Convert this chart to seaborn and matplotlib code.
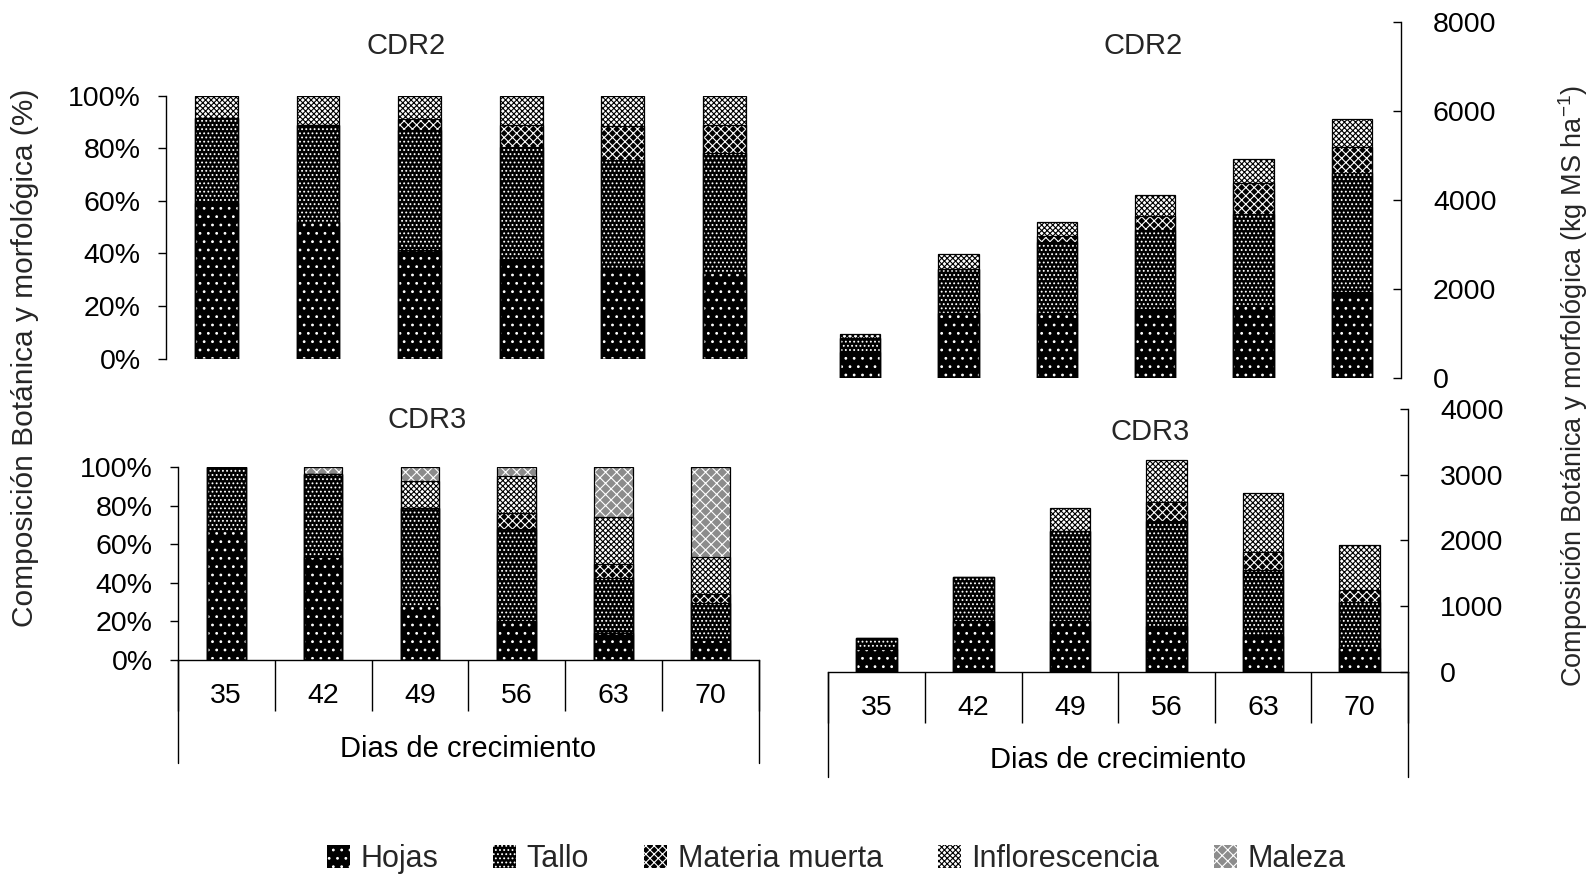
import numpy as np
import matplotlib
matplotlib.use("Agg")
import matplotlib.pyplot as plt
import seaborn as sns
from matplotlib.patches import Patch, Rectangle
from matplotlib.lines import Line2D
from matplotlib.transforms import blended_transform_factory
import matplotlib.ticker as mticker

# Días de crecimiento (categorías) y componentes
dias = ["35", "42", "49", "56", "63", "70"]
componentes = ["Hojas", "Tallo", "Materia muerta", "Inflorescencia", "Maleza"]

# CDR2 - composición porcentual (%)
cdr2_pct_hojas = [59.1, 51.9, 41.1, 38.0, 33.5, 32.7]
cdr2_pct_tallo = [32.4, 37.0, 45.9, 42.4, 41.8, 45.5]
cdr2_pct_mm = [0.0, 0.0, 4.1, 8.5, 13.1, 10.7]
cdr2_pct_infl = [8.5, 11.1, 8.9, 11.1, 11.6, 11.1]

# CDR2 - rendimiento (kg MS/ha)
cdr2_kg_hojas = [575, 1466, 1466, 1560, 1636, 1937]
cdr2_kg_tallo = [330, 985, 1602, 1763, 2063, 2668]
cdr2_kg_mm = [0, 0, 135, 324, 681, 586]
cdr2_kg_infl = [80, 331, 316, 473, 552, 644]

# CDR3 - composición porcentual (%)
cdr3_pct_hojas = [67.1, 53.3, 28.2, 20.4, 13.8, 10.4]
cdr3_pct_tallo = [32.9, 43.2, 50.9, 47.6, 28.6, 19.0]
cdr3_pct_mm = [0.0, 0.0, 0.0, 8.1, 7.4, 4.9]
cdr3_pct_infl = [0.0, 0.0, 14.0, 19.4, 24.2, 19.3]
cdr3_pct_maleza = [0.0, 3.5, 6.9, 4.5, 26.0, 46.4]

# CDR3 - rendimiento (kg MS/ha)
cdr3_kg_hojas = [347, 770, 770, 699, 536, 357]
cdr3_kg_tallo = [168, 679, 1378, 1597, 1020, 704]
cdr3_kg_mm = [0, 0, 0, 296, 271, 179]
cdr3_kg_infl = [0, 0, 347, 638, 903, 689]

sns.set_theme(style="white")
plt.rcParams["font.family"] = ["Liberation Sans", "DejaVu Sans"]
plt.rcParams["mathtext.default"] = "regular"
plt.rcParams["hatch.linewidth"] = 0.8

FS_TICK = 20.5
FS = 21
FS_LEG = 22
W, H = 1593, 875
fig = plt.figure(figsize=(W / 100, H / 100), dpi=100)


def axes_px(left, top, right, bottom):
    return fig.add_axes([left / W, 1 - bottom / H, (right - left) / W, (bottom - top) / H])


estilos = {
    "Hojas": dict(face="black", hatch="..", hc="white"),
    "Tallo": dict(face="black", hatch="....", hc="white"),
    "Materia muerta": dict(face="black", hatch="xxxx", hc="white"),
    "Inflorescencia": dict(face="white", hatch="xxxxxx", hc="black"),
    "Maleza": dict(face="#8c8c8c", hatch="xxx", hc="white"),
}


def barras_apiladas(ax, capas, width):
    valores = np.array([v for _, v in capas], dtype=float)
    acumulado = np.cumsum(valores, axis=0)
    # se dibuja del total hacia abajo; cada capa tapa la parte inferior de la anterior
    for k in range(len(capas) - 1, -1, -1):
        st = estilos[capas[k][0]]
        n0 = len(ax.patches)
        sns.barplot(x=dias, y=acumulado[k], order=dias, ax=ax, color=st["face"],
                    saturation=1, width=width, errorbar=None, hatch=st["hatch"],
                    edgecolor=st["hc"], linewidth=0)
        for p in list(ax.patches[n0:]):
            ax.add_patch(Rectangle(p.get_xy(), p.get_width(), p.get_height(), fill=False,
                                   edgecolor="black", linewidth=0.9, zorder=2))
    ax.set_xlim(-0.5, len(dias) - 0.5)
    ax.set_xlabel("")
    ax.set_ylabel("")


def eje_porcentaje(ax):
    ax.set_ylim(0, 100)
    ax.set_yticks(np.arange(0, 101, 20))
    ax.yaxis.set_major_formatter(mticker.FuncFormatter(lambda v, _: f"{v:.0f}%"))
    for s in ["top", "right"]:
        ax.spines[s].set_visible(False)
    ax.spines["left"].set_color("black")
    ax.spines["left"].set_linewidth(1.0)
    ax.tick_params(axis="y", direction="out", length=6, width=1, pad=12,
                   labelsize=FS_TICK, left=True, colors="black")


def eje_kg(ax, ymax, paso):
    ax.set_ylim(0, ymax)
    ax.set_yticks(np.arange(0, ymax + 1, paso))
    ax.yaxis.tick_right()
    for s in ["top", "left"]:
        ax.spines[s].set_visible(False)
    ax.spines["right"].set_color("black")
    ax.spines["right"].set_linewidth(1.0)
    ax.tick_params(axis="y", direction="in", length=6, width=1, pad=23,
                   labelsize=FS_TICK, right=True, left=False, colors="black")


def sin_eje_x(ax):
    ax.spines["bottom"].set_visible(False)
    ax.tick_params(axis="x", bottom=False, labelbottom=False)


def caja_categorias(ax, alto_ax_px, sep_px, ext_px, lab_px, tit_px):
    ax.spines["bottom"].set_visible(True)
    ax.spines["bottom"].set_color("black")
    ax.spines["bottom"].set_linewidth(1.0)
    n = len(dias)
    ax.set_xticks(np.arange(-0.5, n, 1.0))
    ax.tick_params(axis="x", which="major", direction="out", length=sep_px * 0.72,
                   width=1, bottom=True, labelbottom=False, colors="black")
    tr = blended_transform_factory(ax.transData, ax.transAxes)
    for xe in (-0.5, n - 0.5):
        ax.add_line(Line2D([xe, xe], [0, -ext_px / alto_ax_px], transform=tr,
                           color="black", linewidth=1.0, clip_on=False))
    for i, d in enumerate(dias):
        ax.text(i, -lab_px / alto_ax_px, d, transform=tr, ha="center", va="center",
                fontsize=FS_TICK, color="black")
    ax.text((n - 1) / 2, -tit_px / alto_ax_px, "Dias de crecimiento", transform=tr,
            ha="center", va="center", fontsize=FS, color="black")


# Superior izquierdo: CDR2 (%)
ax1 = axes_px(165.6, 95.5, 775.2, 358.6)
barras_apiladas(ax1, [("Hojas", cdr2_pct_hojas), ("Tallo", cdr2_pct_tallo),
                      ("Materia muerta", cdr2_pct_mm), ("Inflorescencia", cdr2_pct_infl)], 0.42)
eje_porcentaje(ax1)
sin_eje_x(ax1)

# Superior derecho: CDR2 (kg MS/ha)
ax2 = axes_px(811, 22.4, 1401, 378)
barras_apiladas(ax2, [("Hojas", cdr2_kg_hojas), ("Tallo", cdr2_kg_tallo),
                      ("Materia muerta", cdr2_kg_mm), ("Inflorescencia", cdr2_kg_infl)], 0.41)
eje_kg(ax2, 8000, 2000)
sin_eje_x(ax2)

# Inferior izquierdo: CDR3 (%)
ax3 = axes_px(177.8, 467.3, 759, 660)
barras_apiladas(ax3, [("Hojas", cdr3_pct_hojas), ("Tallo", cdr3_pct_tallo),
                      ("Materia muerta", cdr3_pct_mm), ("Inflorescencia", cdr3_pct_infl),
                      ("Maleza", cdr3_pct_maleza)], 0.40)
eje_porcentaje(ax3)
caja_categorias(ax3, 660 - 467.3, 51, 103, 36, 89)

# Inferior derecho: CDR3 (kg MS/ha)
ax4 = axes_px(828.3, 409.3, 1408, 671.6)
barras_apiladas(ax4, [("Hojas", cdr3_kg_hojas), ("Tallo", cdr3_kg_tallo),
                      ("Materia muerta", cdr3_kg_mm), ("Inflorescencia", cdr3_kg_infl)], 0.42)
eje_kg(ax4, 4000, 1000)
caja_categorias(ax4, 671.6 - 409.3, 51, 105, 36, 88)

# Títulos de cada panel
fig.text(406 / W, 1 - 46 / H, "CDR2", ha="center", va="center", fontsize=FS)
fig.text(1143 / W, 1 - 46 / H, "CDR2", ha="center", va="center", fontsize=FS)
fig.text(427 / W, 1 - 420 / H, "CDR3", ha="center", va="center", fontsize=FS)
fig.text(1150 / W, 1 - 432 / H, "CDR3", ha="center", va="center", fontsize=FS)

# Títulos de los ejes
fig.text(25 / W, 1 - 358 / H, "Composición Botánica y morfológica (%)", rotation=90,
         ha="center", va="center", fontsize=21.5)
fig.text(1573 / W, 1 - 386 / H, "Composición Botánica y morfológica (kg MS ha$^{-1}$)",
         rotation=90, ha="center", va="center", fontsize=19.5)

# Leyenda común
manijas = [Patch(facecolor=estilos[c]["face"], edgecolor=estilos[c]["hc"],
                 hatch=estilos[c]["hatch"], linewidth=0) for c in componentes]
fig.legend(manijas, componentes, loc="center", bbox_to_anchor=(0.525, 1 - 859 / H),
           ncol=5, frameon=False, fontsize=FS_LEG, handlelength=0.75, handleheight=0.75,
           handletextpad=0.35, columnspacing=1.8)

fig.savefig("out.png", dpi=100, facecolor="white")
